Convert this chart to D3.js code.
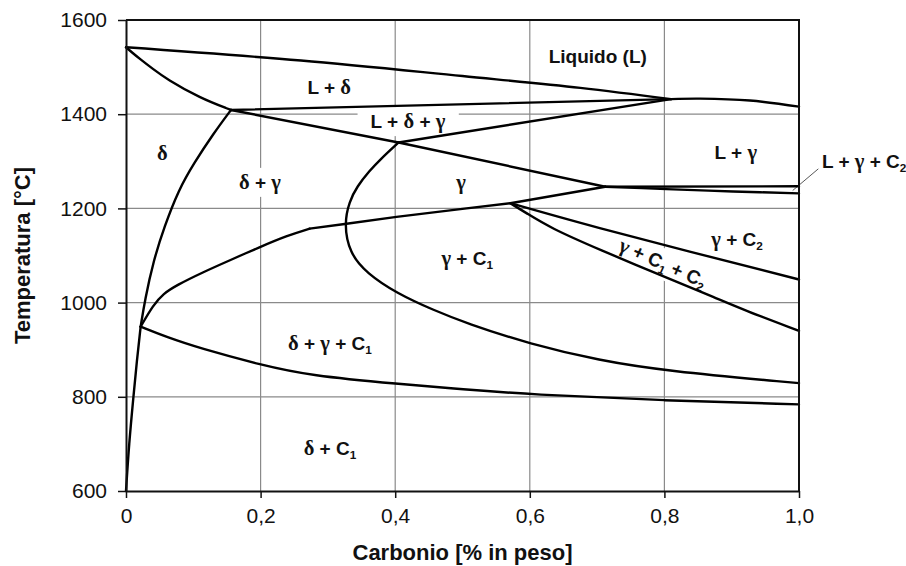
<!DOCTYPE html>
<html>
<head>
<meta charset="utf-8">
<script src="https://cdn.jsdelivr.net/npm/d3@7"></script>
<style>
  body { margin: 0; background: #fff; }
  svg { display: block; }
  text { font-family: "Liberation Sans", Arial, sans-serif; fill: #111; }
</style>
</head>
<body>
<svg id="chart" width="906" height="566"></svg>
<script>
// ---- axis ticks ----
const xTicks = [0, 0.2, 0.4, 0.6, 0.8, 1.0];
const xTickLabels = ["0", "0,2", "0,4", "0,6", "0,8", "1,0"];
const yTicks = [600, 800, 1000, 1200, 1400, 1600];
const xGrid = [0.2, 0.4, 0.6, 0.8];
const yGrid = [800, 1000, 1200, 1400];

// ---- phase boundaries: [carbon wt%, temperature °C] ----
const liquidusDelta   = [[0, 1542], [0.26, 1514], [0.5, 1481], [0.675, 1456], [0.81, 1432]];
const liquidusGamma   = [[0.81, 1432], [0.853, 1433], [0.927, 1429], [1.0, 1416]];
const solidusDelta    = [[0, 1542], [0.01, 1530], [0.02, 1518], [0.04, 1496], [0.06, 1475], [0.11, 1434], [0.156, 1409]];
const peritecticLine  = [[0.156, 1409], [0.81, 1432]];
const deltaGammaLine  = [[0.156, 1409], [0.405, 1340], [0.712, 1246]];
const gammaLiquidLow  = [[0.405, 1340], [0.81, 1432]];
const deltaBoundaryLo = [[0, 600], [0.0045, 700], [0.011, 800], [0.016, 875], [0.0218, 949]];
const deltaBoundaryHi = [[0.0218, 949], [0.028, 1005], [0.041, 1090], [0.057, 1161], [0.078, 1239],
                         [0.101, 1296], [0.13, 1359], [0.156, 1409]];
const gammaNose       = [[0.405, 1340], [0.377, 1303], [0.362, 1280], [0.343, 1246], [0.332, 1215], [0.324, 1168],
                         [0.332, 1105], [0.358, 1062], [0.402, 1020], [0.457, 984], [0.506, 956], [0.600, 912],
                         [0.704, 877], [0.801, 855], [1.0, 829]];
const gammaDeltaLow   = [[0.0218, 949], [0.0406, 995], [0.0555, 1019], [0.0753, 1037], [0.115, 1065],
                         [0.1545, 1090], [0.199, 1118], [0.239, 1142], [0.273, 1157]];
const gammaC1Line     = [[0.273, 1157], [0.325, 1167], [0.402, 1182], [0.506, 1200], [0.571, 1211], [0.712, 1246]];
const eutectoidLine   = [[0.0218, 949], [0.06, 927], [0.11, 903], [0.2, 868], [0.273, 845], [0.407, 827],
                         [0.5, 816], [0.6, 805], [0.8, 792], [1.0, 784]];
const c2Upper         = [[0.571, 1211], [0.704, 1158], [1.0, 1049]];
const c2Lower         = [[0.571, 1211], [0.595, 1190], [0.63, 1159], [0.704, 1112], [0.8, 1055],
                         [0.878, 1009], [0.917, 985], [1.0, 940]];
const lgc2Upper       = [[0.712, 1246], [1.0, 1247]];
const lgc2Lower       = [[0.712, 1246], [0.803, 1241], [0.902, 1236], [1.0, 1232]];

// ---- region labels: text pieces [string, kind] at [carbon, temperature] ----
// kind: "t" plain bold, "g" greek, "s" subscript
const regionLabels = [
  { at: [0.701, 1523], parts: [["Liquido (L)", "t"]] },
  { at: [0.302, 1457], parts: [["L + ", "t"], ["δ", "g"]] },
  { at: [0.419, 1385], parts: [["L + ", "t"], ["δ", "g"], [" + ", "t"], ["γ", "g"]], padX: 13 },
  { at: [0.054, 1317], parts: [["δ", "g"]] },
  { at: [0.199, 1256], parts: [["δ", "g"], [" + ", "t"], ["γ", "g"]] },
  { at: [0.498, 1256], parts: [["γ", "g"]] },
  { at: [0.906, 1320], parts: [["L + ", "t"], ["γ", "g"]] },
  { at: [0.908, 1135], parts: [["γ", "g"], [" + C", "t"], ["2", "s"]] },
  { at: [0.798, 1084], parts: [["γ", "g"], [" + C", "t"], ["1", "s"], [" + C", "t"], ["2", "s"]], rotate: 24 },
  { at: [0.507, 1095], parts: [["γ", "g"], [" + C", "t"], ["1", "s"]] },
  { at: [0.303, 914],  parts: [["δ", "g"], [" + ", "t"], ["γ", "g"], [" + C", "t"], ["1", "s"]] },
  { at: [0.303, 691],  parts: [["δ", "g"], [" + C", "t"], ["1", "s"]] },
  { at: [1.034, 1300], parts: [["L + ", "t"], ["γ", "g"], [" + C", "t"], ["2", "s"]], anchor: "start", noBg: true }
];
const leader = [[1.0287, 1284], [0.9906, 1238]];

// ---- layout ----
const svg = d3.select("#chart");
const x = d3.scaleLinear().domain([0, 1]).range([126, 799]);
const y = d3.scaleLinear().domain([600, 1600]).range([491, 20]);

// grid
const grid = svg.append("g").attr("stroke", "#8a8a8a").attr("stroke-width", 1.2);
grid.selectAll("line.v").data(xGrid).join("line")
  .attr("x1", d => x(d)).attr("x2", d => x(d)).attr("y1", y(600)).attr("y2", y(1600));
grid.selectAll("line.h").data(yGrid).join("line")
  .attr("x1", x(0)).attr("x2", x(1)).attr("y1", d => y(d)).attr("y2", d => y(d));

// labels
const labelSize = 19;
const labelsG = svg.append("g");
regionLabels.forEach(lab => {
  const g = labelsG.append("g")
    .attr("transform", `translate(${x(lab.at[0])},${y(lab.at[1])}) rotate(${lab.rotate || 0})`);
  const bg = g.append("rect").attr("fill", "#fff");
  const t = g.append("text")
    .attr("text-anchor", lab.anchor || "middle")
    .attr("y", labelSize * 0.36)
    .attr("font-size", labelSize)
    .attr("font-weight", "bold");
  let sub = false;
  lab.parts.forEach(([s, kind]) => {
    const sp = t.append("tspan").text(s);
    if (kind === "g") sp.attr("font-family", "'Liberation Serif', 'DejaVu Serif', serif").attr("font-size", labelSize * 1.08);
    if (kind === "s") { sp.attr("font-size", labelSize * 0.62).attr("dy", 4); sub = true; }
    else if (sub) { sp.attr("dy", -4); sub = false; }
  });
  if (!lab.noBg) {
    const b = t.node().getBBox();
    const px = lab.padX || 4, py = 3;
    bg.attr("x", b.x - px).attr("y", b.y - py).attr("width", b.width + 2 * px).attr("height", b.height + 2 * py);
  } else bg.remove();
});

// leader line for the narrow L + γ + C2 field
svg.append("line")
  .attr("x1", x(leader[0][0])).attr("y1", y(leader[0][1]))
  .attr("x2", x(leader[1][0])).attr("y2", y(leader[1][1]))
  .attr("stroke", "#444").attr("stroke-width", 0.9);

// boundaries
const basis = d3.line().x(d => x(d[0])).y(d => y(d[1])).curve(d3.curveBasis);
const smooth = d3.line().x(d => x(d[0])).y(d => y(d[1])).curve(d3.curveCatmullRom.alpha(0.5));
const straight = d3.line().x(d => x(d[0])).y(d => y(d[1]));
const curves = [
  [liquidusDelta, smooth], [liquidusGamma, smooth], [solidusDelta, basis],
  [peritecticLine, straight], [deltaGammaLine, straight], [gammaLiquidLow, straight],
  [deltaBoundaryLo, basis], [deltaBoundaryHi, basis], [gammaNose, basis], [gammaDeltaLow, basis],
  [gammaC1Line, straight], [eutectoidLine, basis], [c2Upper, smooth],
  [c2Lower, basis], [lgc2Upper, straight], [lgc2Lower, smooth]
];
svg.append("g").attr("fill", "none").attr("stroke", "#000").attr("stroke-width", 2.4)
  .attr("stroke-linejoin", "round").attr("stroke-linecap", "round")
  .selectAll("path").data(curves).join("path")
  .attr("d", d => d[1](d[0]));

// frame (top and right)
svg.append("path")
  .attr("d", `M${x(0)},${y(1600)}H${x(1)}V${y(600)}`)
  .attr("fill", "none").attr("stroke", "#111").attr("stroke-width", 2);

// axes
const xAxis = svg.append("g").attr("transform", `translate(0,${y(600)})`)
  .call(d3.axisBottom(x).tickValues(xTicks).tickFormat((d, i) => xTickLabels[i])
    .tickSize(7).tickSizeOuter(0).tickPadding(10));
const yAxis = svg.append("g").attr("transform", `translate(${x(0)},0)`)
  .call(d3.axisLeft(y).tickValues(yTicks).tickFormat(d3.format("d"))
    .tickSize(8).tickSizeOuter(0).tickPadding(11));
[xAxis, yAxis].forEach(a => {
  a.select(".domain").attr("stroke", "#111").attr("stroke-width", 2);
  a.selectAll(".tick line").attr("stroke", "#111").attr("stroke-width", 1.5);
  a.selectAll(".tick text").attr("font-size", 21).attr("font-family", "'Liberation Sans', Arial, sans-serif").attr("fill", "#111");
});

// axis titles
svg.append("text")
  .attr("x", (x(0) + x(1)) / 2).attr("y", 560)
  .attr("text-anchor", "middle").attr("font-size", 22).attr("font-weight", "bold")
  .text("Carbonio [% in peso]");
svg.append("text")
  .attr("transform", `translate(30,${(y(600) + y(1600)) / 2}) rotate(-90)`)
  .attr("text-anchor", "middle").attr("font-size", 22).attr("font-weight", "bold")
  .text("Temperatura [°C]");
</script>
</body>
</html>
